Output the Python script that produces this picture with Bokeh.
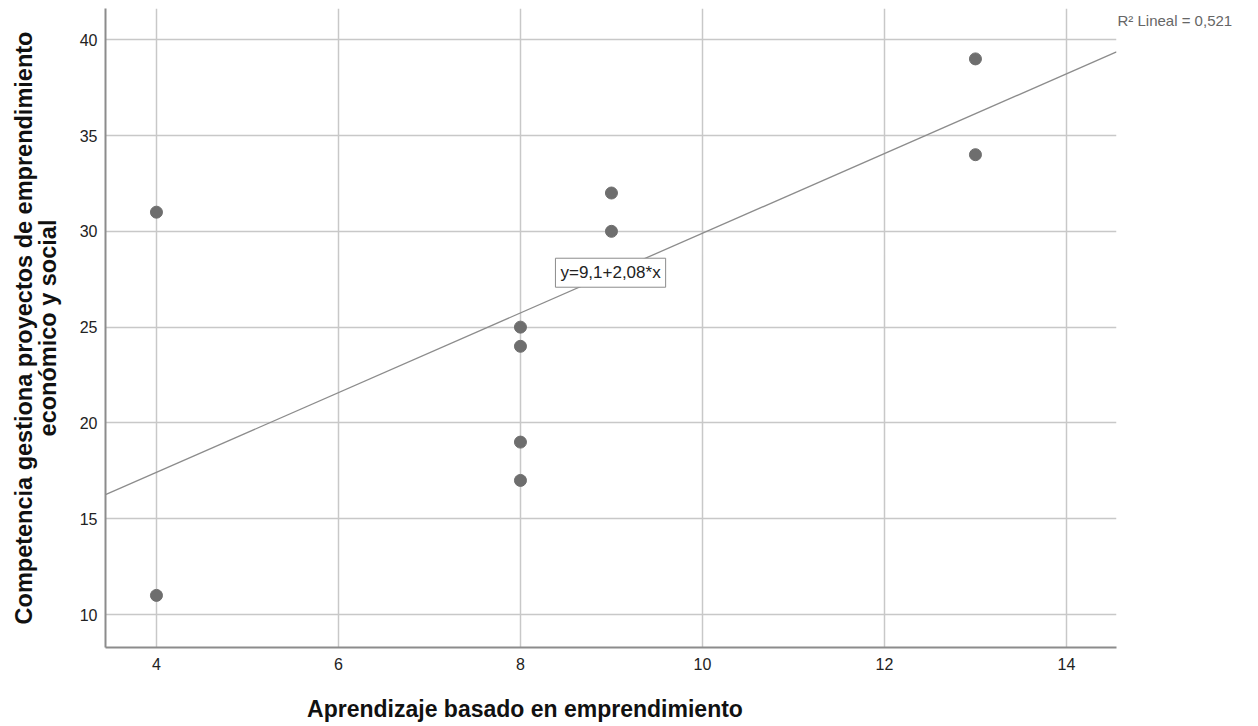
from bokeh.plotting import figure
from bokeh.models import Range1d, Label, FixedTicker, LinearAxis
from bokeh.embed import file_html
from bokeh.resources import INLINE

# Data
x_vals = [4, 4, 8, 8, 8, 8, 9, 9, 13, 13]
y_vals = [31, 11, 25, 24, 19, 17, 32, 30, 39, 34]
intercept = 9.1
slope = 2.08
r2_text = "R\u00b2 Lineal = 0,521"
eq_text = "y=9,1+2,08*x"
x_ticks = [4, 6, 8, 10, 12, 14]
y_ticks = [10, 15, 20, 25, 30, 35, 40]
x_title = "Aprendizaje basado en emprendimiento"
y_title = "Competencia gestiona proyectos de emprendimiento\neconómico y social"

FONT = "Liberation Sans"
x0, x1 = 3.44, 14.55
y0, y1 = 8.28, 41.63

p = figure(width=1242, height=726, output_backend="svg", toolbar_location=None,
           x_range=Range1d(x0, x1), y_range=Range1d(y0, y1),
           min_border_left=105, min_border_right=126, min_border_top=8, min_border_bottom=79)
p.outline_line_color = None
p.background_fill_color = "white"

for ax, ticks in ((p.xaxis[0], x_ticks), (p.yaxis[0], y_ticks)):
    ax.ticker = FixedTicker(ticks=ticks)
    ax.major_tick_line_color = None
    ax.minor_tick_line_color = None
    ax.major_tick_out = 0
    ax.major_tick_in = 0
    ax.axis_line_color = "#8c8c8c"
    ax.axis_line_width = 2
    ax.major_label_text_font = FONT
    ax.major_label_text_font_size = "16px"
    ax.major_label_text_color = "#222222"
    ax.axis_label_text_font = FONT
    ax.axis_label_text_font_style = "bold"
    ax.axis_label_text_color = "#111111"

p.yaxis.axis_label = y_title
p.yaxis.axis_label_text_font_size = "23.5px"
p.yaxis.axis_label_text_line_height = 0.9
p.xaxis.major_label_standoff = 10
p.yaxis.major_label_standoff = 8
p.yaxis.axis_label_standoff = 16

# x title: SPSS places it left of the frame centre -> label-only axis below
x_title_pos = 8.05
xt_axis = LinearAxis(ticker=FixedTicker(ticks=[x_title_pos]),
                     major_label_overrides={x_title_pos: x_title})
xt_axis.axis_line_color = None
xt_axis.major_tick_line_color = None
xt_axis.minor_tick_line_color = None
xt_axis.major_tick_out = 0
xt_axis.major_tick_in = 0
xt_axis.major_label_standoff = 23
xt_axis.major_label_text_font = FONT
xt_axis.major_label_text_font_style = "bold"
xt_axis.major_label_text_font_size = "23px"
xt_axis.major_label_text_color = "#111111"
p.add_layout(xt_axis, "below")

# R² note to the right of the frame, as a label-only axis
r2_axis = LinearAxis(ticker=FixedTicker(ticks=[41]),
                     major_label_overrides={41: r2_text})
r2_axis.axis_line_color = None
r2_axis.major_tick_line_color = None
r2_axis.minor_tick_line_color = None
r2_axis.major_tick_out = 0
r2_axis.major_tick_in = 0
r2_axis.major_label_standoff = 1
r2_axis.major_label_text_font = FONT
r2_axis.major_label_text_font_size = "15px"
r2_axis.major_label_text_color = "#666666"
p.add_layout(r2_axis, "right")

p.xgrid.ticker = FixedTicker(ticks=x_ticks)
p.ygrid.ticker = FixedTicker(ticks=y_ticks)
for g in (p.xgrid[0], p.ygrid[0]):
    g.grid_line_color = "#c8c8c8"
    g.grid_line_width = 1.5

# regression line across the full x range
lx = [x0, x1]
ly = [intercept + slope * v for v in lx]
p.line(lx, ly, line_color="#8c8c8c", line_width=1.3)

p.scatter(x_vals, y_vals, size=12, fill_color="#6e6e6e", line_color="#6e6e6e")

eq = Label(x=8.99, y=27.84, text=eq_text, text_font=FONT, text_font_size="17px",
           text_color="#222222", text_align="center", text_baseline="middle",
           border_line_color="#8c8c8c", border_line_width=1,
           background_fill_color="white", padding=5)
p.add_layout(eq)

open("out.html", "w").write(file_html(p, INLINE))
